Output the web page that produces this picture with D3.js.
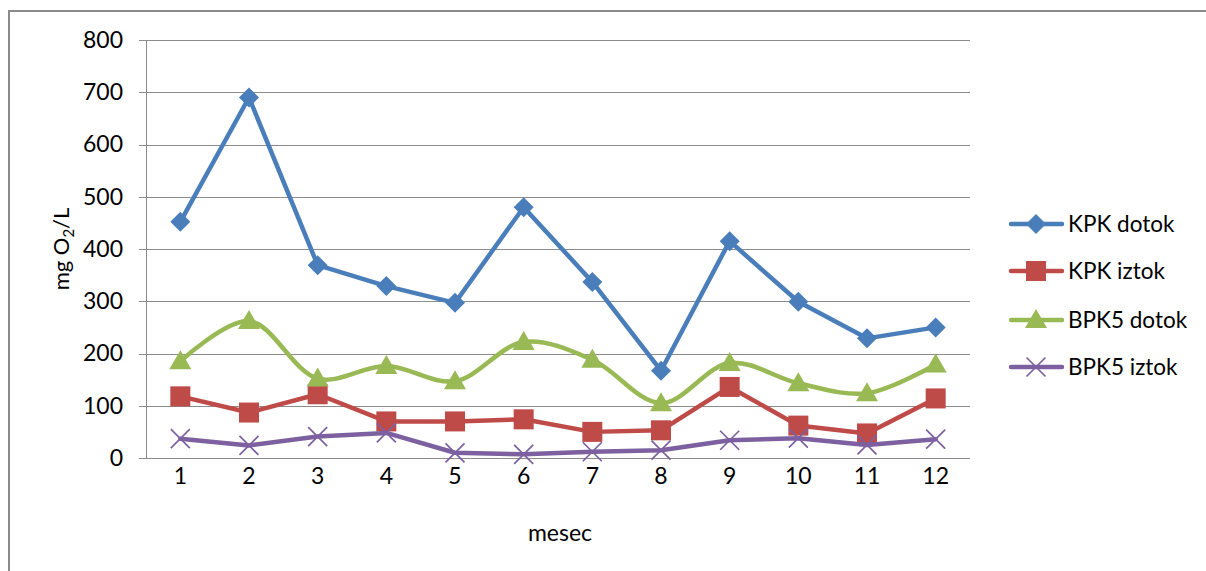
<!DOCTYPE html>
<html>
<head>
<meta charset="utf-8">
<script src="https://cdn.jsdelivr.net/npm/d3@7"></script>
<style>
  html, body { margin: 0; padding: 0; background: #fff; }
  svg { display: block; font-family: Lato, "Open Sans", sans-serif; }
</style>
</head>
<body>
<svg id="chart" width="1206" height="571"></svg>
<script>
// Months (category axis)
const months = ["1", "2", "3", "4", "5", "6", "7", "8", "9", "10", "11", "12"];

// Monthly values, mg O2/L
const kpkDotok  = [452, 690, 369, 329, 297, 480, 337, 167, 415, 299, 229, 250];
const kpkIztok  = [118, 87, 122, 70, 70, 74, 50, 53, 136, 62, 47, 114];
const bpk5Dotok = [185, 262, 152, 176, 147, 222, 188, 105, 182, 143, 124, 179];
const bpk5Iztok = [37, 24, 41, 48, 10, 7, 12, 15, 34, 38, 25, 36];

const yTicks = [0, 100, 200, 300, 400, 500, 600, 700, 800];

const seriesNames = ["KPK dotok", "KPK iztok", "BPK5 dotok", "BPK5 iztok"];

const series = [
  { name: seriesNames[0], values: kpkDotok,  color: "#4A7EBB", marker: "diamond",  smooth: false },
  { name: seriesNames[1], values: kpkIztok,  color: "#BE4B48", marker: "square",   smooth: false },
  { name: seriesNames[2], values: bpk5Dotok, color: "#98B954", marker: "triangle", smooth: true  },
  { name: seriesNames[3], values: bpk5Iztok, color: "#7D60A0", marker: "cross",    smooth: false }
];

const svg = d3.select("#chart");

// Outer chart frame
svg.append("rect")
  .attr("x", 9).attr("y", 11)
  .attr("width", 1260).attr("height", 700)
  .attr("fill", "none")
  .attr("stroke", "#8a8a8a")
  .attr("stroke-width", 2);

const plot = { left: 146, right: 970, top: 40, bottom: 458 };

const x = d3.scaleBand()
  .domain(months)
  .range([plot.left, plot.right]);

const y = d3.scaleLinear()
  .domain([0, 800])
  .range([plot.bottom, plot.top]);

const cx = m => x(m) + x.bandwidth() / 2;

// Horizontal gridlines with short ticks to the left of the axis
const gridG = svg.append("g");
gridG.selectAll("line")
  .data(yTicks)
  .join("line")
  .attr("x1", plot.left - 7)
  .attr("x2", plot.right)
  .attr("y1", d => Math.round(y(d)) + 0.5)
  .attr("y2", d => Math.round(y(d)) + 0.5)
  .attr("stroke", "#8c8c8c")
  .attr("stroke-width", 1);

// Vertical value axis line
svg.append("line")
  .attr("x1", plot.left + 0.5).attr("x2", plot.left + 0.5)
  .attr("y1", plot.top).attr("y2", plot.bottom)
  .attr("stroke", "#8c8c8c")
  .attr("stroke-width", 1);

// Y tick labels
const yAxis = d3.axisLeft(y).tickValues(yTicks).tickSize(0).tickPadding(0);
const yAxisG = svg.append("g")
  .attr("transform", `translate(${plot.left - 23},0)`)
  .call(yAxis);
yAxisG.select(".domain").remove();
yAxisG.selectAll("text")
  .attr("font-family", "Lato, 'Open Sans', sans-serif")
  .attr("font-size", 23)
  .attr("fill", "#000");

// X tick labels
const xAxis = d3.axisBottom(x).tickSize(0).tickPadding(0);
const xAxisG = svg.append("g")
  .attr("transform", `translate(0,${plot.bottom + 10})`)
  .call(xAxis);
xAxisG.select(".domain").remove();
xAxisG.selectAll("text")
  .attr("font-family", "Lato, 'Open Sans', sans-serif")
  .attr("font-size", 23)
  .attr("fill", "#000");

// Axis titles
svg.append("text")
  .attr("x", (plot.left + plot.right) / 2 + 2)
  .attr("y", 541)
  .attr("text-anchor", "middle")
  .attr("font-size", 23)
  .attr("fill", "#000")
  .text("mesec");

const yTitle = svg.append("text")
  .attr("transform", "translate(69,249) rotate(-90)")
  .attr("text-anchor", "middle")
  .attr("font-size", 22)
  .attr("fill", "#000");
yTitle.append("tspan").text("mg O");
yTitle.append("tspan").attr("font-size", 15).attr("dy", 5).text("2");
yTitle.append("tspan").attr("dy", -5).text("/L");

// Marker shapes
function drawMarker(g, type, color) {
  if (type === "diamond") {
    g.append("path").attr("d", "M0,-10 L10,0 L0,10 L-10,0 Z").attr("fill", color);
  } else if (type === "square") {
    g.append("rect").attr("x", -10).attr("y", -10).attr("width", 20).attr("height", 20).attr("fill", color);
  } else if (type === "triangle") {
    g.append("path").attr("d", "M0,-11 L11,8 L-11,8 Z").attr("fill", color);
  } else if (type === "cross") {
    g.append("path").attr("d", "M-9.5,-9.5 L9.5,9.5 M-9.5,9.5 L9.5,-9.5")
      .attr("stroke", color).attr("stroke-width", 1.7).attr("fill", "none");
  }
}

// Series lines and markers
series.forEach(s => {
  const line = d3.line()
    .x((d, i) => cx(months[i]))
    .y(d => y(d))
    .curve(s.smooth ? d3.curveCatmullRom.alpha(0.5) : d3.curveLinear);

  const g = svg.append("g");
  g.append("path")
    .datum(s.values)
    .attr("d", line)
    .attr("fill", "none")
    .attr("stroke", s.color)
    .attr("stroke-width", 4.5)
    .attr("stroke-linejoin", "round")
    .attr("stroke-linecap", "round");

  g.selectAll("g.pt")
    .data(s.values)
    .join("g")
    .attr("class", "pt")
    .attr("transform", (d, i) => `translate(${cx(months[i])},${y(d)})`)
    .each(function () { drawMarker(d3.select(this), s.marker, s.color); });
});

// Legend
const legend = svg.append("g");
const legendRows = [224, 271, 320, 367];
series.forEach((s, i) => {
  const row = legend.append("g").attr("transform", `translate(0,${legendRows[i]})`);
  row.append("line")
    .attr("x1", 1011).attr("x2", 1062)
    .attr("y1", 0).attr("y2", 0)
    .attr("stroke", s.color)
    .attr("stroke-width", 4.5)
    .attr("stroke-linecap", "round");
  const m = row.append("g").attr("transform", "translate(1036,0)");
  drawMarker(m, s.marker, s.color);
  row.append("text")
    .attr("x", 1068)
    .attr("y", 0)
    .attr("dy", "0.35em")
    .attr("font-size", 22.5)
    .attr("fill", "#000")
    .text(s.name);
});
</script>
</body>
</html>
